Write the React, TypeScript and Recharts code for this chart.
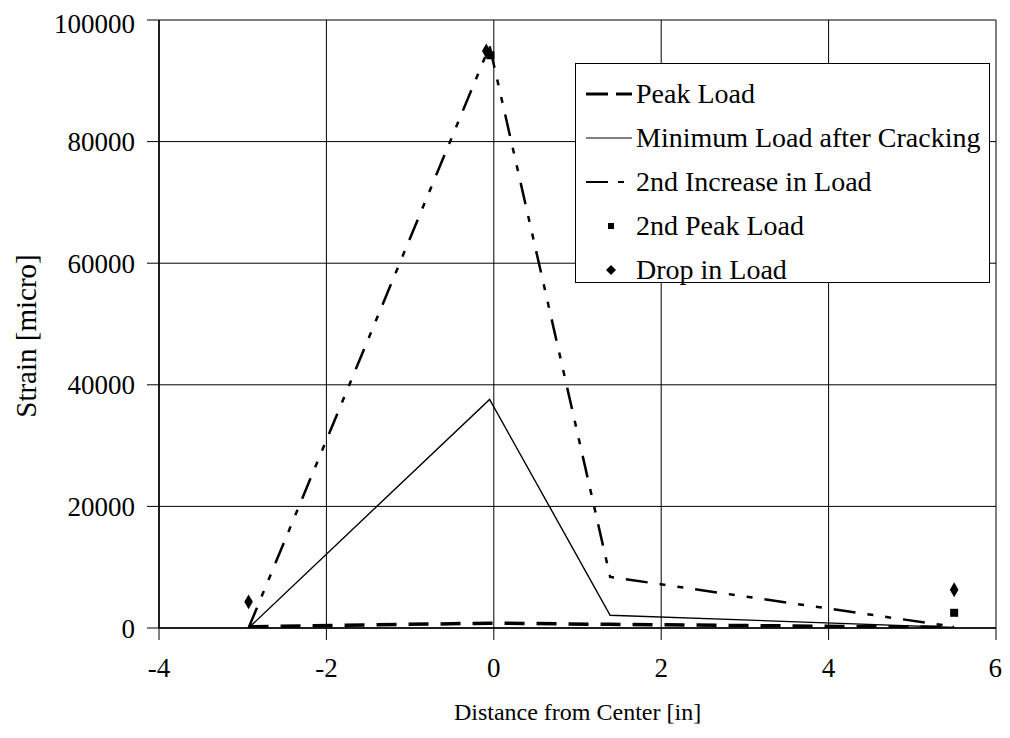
import React from 'react';
import {
    ComposedChart,
    Line,
    Scatter,
    XAxis,
    YAxis,
    CartesianGrid,
    Legend,
    Label
} from 'recharts';

// gauge positions along the specimen [in]
const positions = [-2.93, -0.05, 1.39, 5.5];

// strain readings [micro] at each position
const peakLoad = [200, 800, 600, 100];
const minLoadAfterCracking = [0, 37600, 2100, 100];
const secondIncrease = [0, 95700, 8400, 200];

// isolated readings
const secondPeakX = [-0.04, 5.5];
const secondPeakY = [94200, 2500];
const dropX = [-2.93, -0.09, 5.5];
const dropY = [4300, 94900, 6300];

const xTicks = [-4, -2, 0, 2, 4, 6];
const yTicks = [0, 20000, 40000, 60000, 80000, 100000];

const toPoints = (xs: number[], ys: number[]) => xs.map((x, i) => ({ x, y: ys[i] }));

const FONT = 'Times New Roman, Liberation Serif, Tinos, Times, DejaVu Serif, serif';

const legendItems = [
    { name: 'Peak Load', kind: 'dash' },
    { name: 'Minimum Load after Cracking', kind: 'solid' },
    { name: '2nd Increase in Load', kind: 'dashdot' },
    { name: '2nd Peak Load', kind: 'square' },
    { name: 'Drop in Load', kind: 'diamond' }
];

function LegendIcon({ kind }: { kind: string }) {
    return (
        <svg width={50} height={20} style={{ marginRight: 4, flex: 'none' }}>
            {kind === 'dash' && <line x1={4} y1={10} x2={50} y2={10} stroke="#000" strokeWidth={3} strokeDasharray="22 8" />}
            {kind === 'solid' && <line x1={4} y1={10} x2={50} y2={10} stroke="#000" strokeWidth={1.2} />}
            {kind === 'dashdot' && <line x1={4} y1={10} x2={50} y2={10} stroke="#000" strokeWidth={2} strokeDasharray="22 10 6 10" />}
            {kind === 'square' && <rect x={26} y={7} width={6} height={6} fill="#000" />}
            {kind === 'diamond' && <polygon points="29,5 34,10 29,15 24,10" fill="#000" />}
        </svg>
    );
}

function StrainLegend() {
    return (
        <div style={{ border: '1.5px solid #000', background: '#fff', padding: '8px 6px 6px 6px', boxSizing: 'border-box', width: 415, height: 220 }}>
            {legendItems.map((item) => (
                <div key={item.name} style={{ display: 'flex', alignItems: 'center', height: 44, fontFamily: FONT, fontSize: 28, color: '#000', whiteSpace: 'nowrap' }}>
                    <LegendIcon kind={item.kind} />
                    <span>{item.name}</span>
                </div>
            ))}
        </div>
    );
}

export default function App() {
    const tickStyle = { fill: '#000', fontFamily: FONT, fontSize: 27 };
    return (
        <div style={{ width: 994, height: 720, background: '#fff' }}>
            <style>{`.recharts-surface { overflow: visible; }`}</style>
            <ComposedChart width={994} height={720} margin={{ top: 12, right: 6, left: 0, bottom: 0 }}>
                <CartesianGrid stroke="#000" strokeWidth={1} />
                <XAxis
                    type="number"
                    dataKey="x"
                    domain={[-4, 6]}
                    ticks={xTicks}
                    height={100}
                    axisLine={{ stroke: '#000', strokeWidth: 1.5 }}
                    tickLine={{ stroke: '#000' }}
                    tickSize={12}
                    tickMargin={18}
                    tick={tickStyle}
                    allowDataOverflow
                >
                    <Label value="Distance from Center [in]" position="insideBottom" offset={8} style={{ fill: '#000', fontFamily: FONT, fontSize: 24 }} />
                </XAxis>
                <YAxis
                    type="number"
                    dataKey="y"
                    domain={[0, 100000]}
                    ticks={yTicks}
                    width={151}
                    axisLine={{ stroke: '#000', strokeWidth: 1.5 }}
                    tickLine={{ stroke: '#000' }}
                    tickSize={12}
                    tickMargin={12}
                    tick={tickStyle}
                    allowDataOverflow
                >
                    <Label
                        content={({ viewBox }: any) => {
                            const cx = viewBox.x + 18;
                            const cy = viewBox.y + viewBox.height / 2 + 12;
                            return (
                                <text x={cx} y={cy} transform={`rotate(-90, ${cx}, ${cy})`} textAnchor="middle" dominantBaseline="central" fill="#000" fontFamily={FONT} fontSize={29}>
                                    Strain [micro]
                                </text>
                            );
                        }}
                    />
                </YAxis>
                <Legend
                    layout="vertical"
                    align="center"
                    verticalAlign="middle"
                    wrapperStyle={{ left: 567, top: 55, width: 415, height: 220 }}
                    content={() => <StrainLegend />}
                />
                <Line
                    data={toPoints(positions, peakLoad)}
                    dataKey="y"
                    name="Peak Load"
                    type="linear"
                    stroke="#000"
                    strokeWidth={3.5}
                    strokeDasharray="20 12"
                    dot={false}
                    isAnimationActive={false}
                />
                <Line
                    data={toPoints(positions, minLoadAfterCracking)}
                    dataKey="y"
                    name="Minimum Load after Cracking"
                    type="linear"
                    stroke="#000"
                    strokeWidth={1.4}
                    dot={false}
                    isAnimationActive={false}
                />
                <Line
                    data={toPoints(positions, secondIncrease)}
                    dataKey="y"
                    name="2nd Increase in Load"
                    type="linear"
                    stroke="#000"
                    strokeWidth={2.5}
                    strokeDasharray="22 12 6 12 6 12"
                    dot={false}
                    isAnimationActive={false}
                />
                <Scatter
                    data={toPoints(secondPeakX, secondPeakY)}
                    name="2nd Peak Load"
                    fill="#000"
                    shape="square"
                    legendType="square"
                    isAnimationActive={false}
                />
                <Scatter
                    data={toPoints(dropX, dropY)}
                    name="Drop in Load"
                    fill="#000"
                    shape="diamond"
                    legendType="diamond"
                    isAnimationActive={false}
                />
            </ComposedChart>
        </div>
    );
}
